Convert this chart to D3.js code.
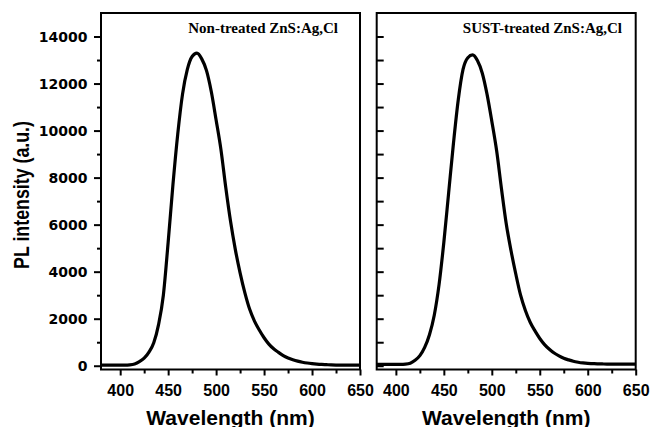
<!DOCTYPE html>
<html><head><meta charset="utf-8">
<script src="https://cdn.jsdelivr.net/npm/d3@7/dist/d3.min.js"></script>
<style>body{margin:0;background:#fff}svg{display:block}</style>
</head><body>
<svg id="c" width="653" height="427"></svg>
<script>
// ---- data ----
const wavelengths = [380,385,390,395,400,405,410,415,420,425,430,435,440,445,450,455,460,465,470,475,480,485,490,495,500,505,510,515,520,525,530,535,540,545,550,555,560,565,570,575,580,585,590,595,600,605,610,615,620,625,630,635,640,645,650];
const nonTreated = [30,25,30,25,30,30,40,75,170,320,580,980,1750,3000,5250,7700,9850,11550,12600,13150,13290,13050,12550,11650,10450,9200,7600,6150,4950,3950,3100,2400,1900,1520,1190,920,720,570,430,330,255,195,150,115,90,70,55,45,35,30,30,30,30,30,30];
const sustTreated = [60,60,60,60,60,60,70,110,230,430,780,1320,2150,3450,5250,7350,9450,11300,12600,13100,13220,12980,12450,11550,10400,9150,7550,6050,4900,3900,3000,2350,1850,1480,1160,900,700,540,420,320,250,190,150,120,100,90,80,75,70,70,70,70,70,70,70];
const panelTitles = ["Non-treated ZnS:Ag,Cl", "SUST-treated ZnS:Ag,Cl"];
const xMajorTicks = [400,450,500,550,600,650];
const xMinorTicks = [425,475,525,575,625];
const yMajorTicks = [0,2000,4000,6000,8000,10000,12000,14000];
const yMinorTicks = [1000,3000,5000,7000,9000,11000,13000];
const yAllTicks = [0,1000,2000,3000,4000,5000,6000,7000,8000,9000,10000,11000,12000,13000,14000];
const xLabel = "Wavelength (nm)";
const yLabel = "PL intensity (a.u.)";

// ---- layout ----
const svg = d3.select("#c");
const plotTop = 13, plotBottom = 369.5;
const panels = [
  {x0: 101, x1: 360, data: nonTreated, title: panelTitles[0], titleX: 338, leftLabels: true},
  {x0: 376.7, x1: 635.7, data: sustTreated, title: panelTitles[1], titleX: 622, leftLabels: false}
];
const y = d3.scaleLinear().domain([-160, 15000]).range([plotBottom, plotTop]);

panels.forEach(p => {
  const x = d3.scaleLinear().domain([380, 650]).range([p.x0, p.x1]);
  const g = svg.append("g");

  // data line
  const line = d3.line()
    .x((d, i) => x(wavelengths[i]))
    .y(d => y(d))
    .curve(d3.curveMonotoneX);
  g.append("path").datum(p.data)
    .attr("d", line)
    .attr("fill", "none").attr("stroke", "#000")
    .attr("stroke-width", 3.2).attr("stroke-linejoin", "round");

  // bottom axis ticks
  const xa = g.append("g").attr("transform", `translate(0,${plotBottom})`)
    .call(d3.axisBottom(x).tickValues(xMajorTicks).tickSize(6).tickPadding(9.5).tickFormat(d3.format("d")));
  xa.select(".domain").remove();
  xa.selectAll("line").attr("stroke-width", 2);
  xa.selectAll("text").attr("font-family", "Liberation Sans, Arial, sans-serif")
    .attr("font-weight", "bold").attr("font-size", 16).attr("fill", "#000");
  const xm = g.append("g").attr("transform", `translate(0,${plotBottom})`)
    .call(d3.axisBottom(x).tickValues(xMinorTicks).tickSize(4).tickFormat(""));
  xm.select(".domain").remove();
  xm.selectAll("line").attr("stroke-width", 2);

  if (p.leftLabels) {
    const ya = g.append("g").attr("transform", `translate(${p.x0},0)`)
      .call(d3.axisLeft(y).tickValues(yMajorTicks).tickSize(7).tickPadding(6.5).tickFormat(d3.format("d")));
    ya.select(".domain").remove();
    ya.selectAll("line").attr("stroke-width", 2);
    ya.selectAll("text").attr("font-family", "DejaVu Sans, sans-serif")
      .attr("font-weight", "bold").attr("font-size", 14).attr("fill", "#000");
    const ym = g.append("g").attr("transform", `translate(${p.x0},0)`)
      .call(d3.axisLeft(y).tickValues(yMinorTicks).tickSize(4).tickFormat(""));
    ym.select(".domain").remove();
    ym.selectAll("line").attr("stroke-width", 2);
  } else {
    const ya = g.append("g").attr("transform", `translate(${p.x0},0)`)
      .call(d3.axisRight(y).tickValues(yAllTicks).tickSize(7).tickFormat(""));
    ya.select(".domain").remove();
    ya.selectAll("line").attr("stroke-width", 2);
  }

  // frame
  g.append("rect").attr("x", p.x0).attr("y", plotTop)
    .attr("width", p.x1 - p.x0).attr("height", plotBottom - plotTop)
    .attr("fill", "none").attr("stroke", "#000").attr("stroke-width", 2);

  // panel title
  g.append("text").attr("x", p.titleX).attr("y", 33)
    .attr("text-anchor", "end")
    .attr("font-family", "Liberation Serif, Times New Roman, serif")
    .attr("font-weight", "bold").attr("font-size", 15).attr("fill", "#000")
    .text(p.title);

  // x axis title
  g.append("text").attr("x", (p.x0 + p.x1) / 2).attr("y", 424.5)
    .attr("text-anchor", "middle")
    .attr("font-family", "Liberation Sans, Arial, sans-serif")
    .attr("font-weight", "bold").attr("font-size", 21).attr("fill", "#000")
    .text(xLabel);
});

// y axis title
svg.append("text")
  .attr("transform", "translate(29,195) rotate(-90) scale(1,1.25)")
  .attr("text-anchor", "middle")
  .attr("font-family", "Liberation Sans, Arial, sans-serif")
  .attr("font-weight", "bold").attr("font-size", 17.8).attr("fill", "#000")
  .text(yLabel);
</script>
</body></html>
